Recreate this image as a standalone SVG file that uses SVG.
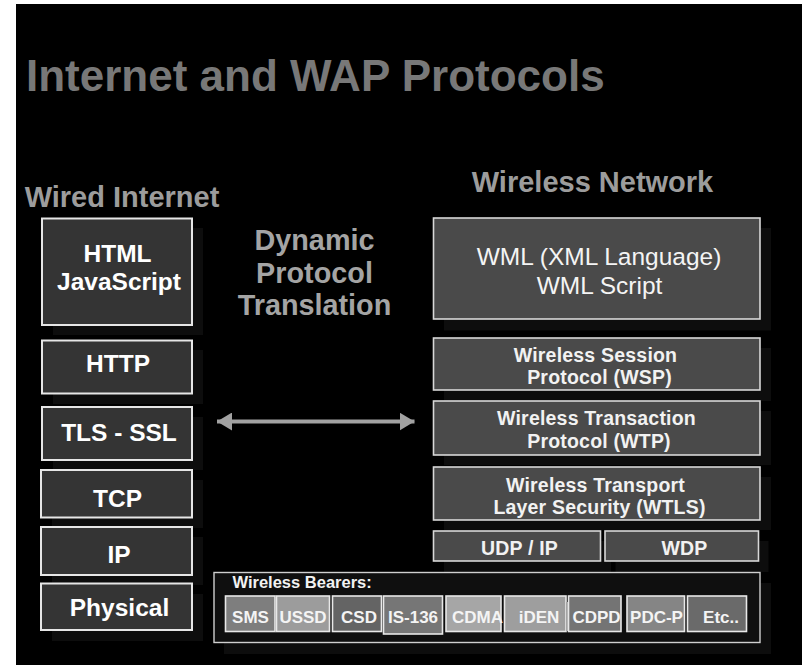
<svg xmlns="http://www.w3.org/2000/svg" width="804" height="665" viewBox="0 0 804 665">
  <defs>
    <style>
      text { font-family: "Liberation Sans", Arial, sans-serif; text-anchor: middle; }
      .shadow { fill: #0d0d0d; }
      .wired { fill: #343434; stroke: #e6e6e6; stroke-width: 2; }
      .wireless { fill: #4a4a4a; stroke: #d8d8d8; stroke-width: 1.6; }
      .bearers { fill: #0f0f0f; stroke: #cfcfcf; stroke-width: 1.4; }
      .chip { stroke: #e8e8e8; stroke-width: 1.6; }
      .lbl { fill: #ffffff; font-weight: bold; font-size: 24.5px; }
      .wl { fill: #f2f2f2; font-weight: bold; font-size: 19.5px; letter-spacing: 0.2px; }
      .chipt { fill: #f4f4f4; font-weight: bold; font-size: 17px; }
      .head { fill: #9c9c9c; font-weight: bold; font-size: 29px; }
    </style>
    <marker id="tip" viewBox="0 0 15 18" refX="15" refY="9" markerWidth="15" markerHeight="18" markerUnits="userSpaceOnUse" orient="auto-start-reverse">
      <path d="M0,0 L15,9 L0,18 Z" fill="#a2a2a2"/>
    </marker>
  </defs>

  <!-- page frame -->
  <rect x="0" y="0" width="804" height="665" fill="#ffffff"/>
  <rect x="16" y="4" width="786" height="661" fill="#000000"/>

  <!-- headings -->
  <text x="26" y="90.5" font-size="44" font-weight="bold" fill="#787878" style="text-anchor:start">Internet and WAP Protocols</text>
  <text class="head" x="122" y="206.5">Wired Internet</text>
  <text class="head" x="592.5" y="191.5">Wireless Network</text>
  <g id="translation-label" fill="#a4a4a4" font-weight="bold" font-size="28.8">
    <text x="314.5" y="250">Dynamic</text>
    <text x="314.5" y="283.3">Protocol</text>
    <text x="314.5" y="315">Translation</text>
  </g>

  <!-- wired internet stack -->
  <g id="html">
    <rect class="shadow" x="53" y="228" width="150" height="107"/>
    <rect class="wired" x="42" y="218.5" width="150" height="106.5"/>
    <text class="lbl" x="117.5" y="262">HTML</text>
    <text class="lbl" x="119" y="290">JavaScript</text>
  </g>
  <g id="http">
    <rect class="shadow" x="53" y="350" width="150" height="54"/>
    <rect class="wired" x="42" y="340.5" width="150" height="53"/>
    <text class="lbl" x="118" y="371.5">HTTP</text>
  </g>
  <g id="tls">
    <rect class="shadow" x="53" y="417" width="150" height="53"/>
    <rect class="wired" x="42" y="407" width="150" height="53"/>
    <text class="lbl" x="119" y="440.5">TLS - SSL</text>
  </g>
  <g id="tcp">
    <rect class="shadow" x="52" y="480" width="151" height="48"/>
    <rect class="wired" x="41" y="470" width="151" height="47.5"/>
    <text class="lbl" x="117.5" y="506.5">TCP</text>
  </g>
  <g id="ip">
    <rect class="shadow" x="52" y="537" width="151" height="48"/>
    <rect class="wired" x="41" y="527" width="151" height="48"/>
    <text class="lbl" x="119" y="562.5">IP</text>
  </g>
  <g id="physical">
    <rect class="shadow" x="52" y="594" width="151" height="47"/>
    <rect class="wired" x="41" y="583.5" width="151" height="46.5"/>
    <text class="lbl" x="119.5" y="616">Physical</text>
  </g>

  <!-- wireless stack -->
  <g id="wml">
    <rect class="shadow" x="444" y="228" width="327" height="102.5"/>
    <rect class="wireless" x="433.5" y="218" width="326.5" height="101"/>
    <text x="599" y="265" font-size="24.5" fill="#f4f4f4">WML (XML Language)</text>
    <text x="599.5" y="294" font-size="24.5" fill="#f4f4f4">WML Script</text>
  </g>
  <g id="wsp">
    <rect class="shadow" x="444" y="348" width="327" height="53"/>
    <rect class="wireless" x="433.5" y="338" width="326.5" height="52"/>
    <text class="wl" x="595.5" y="361.5">Wireless Session</text>
    <text class="wl" x="599.5" y="384">Protocol (WSP)</text>
  </g>
  <g id="wtp">
    <rect class="shadow" x="444" y="411" width="327" height="54"/>
    <rect class="wireless" x="433.5" y="401" width="326.5" height="54"/>
    <text class="wl" x="596.5" y="425">Wireless Transaction</text>
    <text class="wl" x="599" y="447.5">Protocol (WTP)</text>
  </g>
  <g id="wtls">
    <rect class="shadow" x="444" y="477" width="327" height="53"/>
    <rect class="wireless" x="433.5" y="467" width="326.5" height="53"/>
    <text class="wl" x="595.5" y="491.5">Wireless Transport</text>
    <text class="wl" x="599.5" y="514">Layer Security (WTLS)</text>
  </g>
  <g id="udp-ip">
    <rect class="shadow" x="444" y="541" width="167" height="31"/>
    <rect class="wireless" x="433.5" y="531" width="167" height="30"/>
    <text class="wl" x="519.5" y="555">UDP / IP</text>
  </g>
  <g id="wdp">
    <rect class="shadow" x="615.5" y="541" width="153" height="31"/>
    <rect class="wireless" x="605" y="531" width="153.5" height="30"/>
    <text class="wl" x="684.5" y="555">WDP</text>
  </g>

  <!-- wireless bearers -->
  <g id="bearers">
    <rect class="shadow" x="224" y="583" width="547" height="71"/>
    <rect class="bearers" x="214" y="572.5" width="546" height="70"/>
    <text x="232.5" y="587.5" font-size="16.5" font-weight="bold" fill="#f2f2f2" style="text-anchor:start">Wireless Bearers:</text>
    <g id="sms"><rect class="chip" x="225.5" y="596" width="49.5" height="35.5" fill="#7e7e7e"/><text class="chipt" x="250.5" y="622.5">SMS</text></g>
    <g id="ussd"><rect class="chip" x="276.5" y="596" width="53" height="35.5" fill="#9c9c9c"/><text class="chipt" x="303" y="622.5">USSD</text></g>
    <g id="csd"><rect class="chip" x="332.5" y="596" width="49" height="35.5" fill="#646464"/><text class="chipt" x="359" y="622.5">CSD</text></g>
    <g id="is136"><rect class="chip" x="383.5" y="596" width="59" height="38" fill="#767676"/><text class="chipt" x="413" y="622.5">IS-136</text></g>
    <g id="cdma"><rect class="chip" x="446" y="596" width="55" height="35.5" fill="#a6a6a6"/><text class="chipt" x="477.5" y="622.5">CDMA</text></g>
    <g id="iden"><rect class="chip" x="504.5" y="596" width="61.5" height="35.5" fill="#9e9e9e"/><rect x="566" y="602" width="4.5" height="29" fill="#a4a4a4"/><text class="chipt" x="539" y="622.5">iDEN</text></g>
    <g id="cdpd"><rect class="chip" x="568.5" y="596" width="52.5" height="35.5" fill="#747474"/><text class="chipt" x="596.5" y="622.5">CDPD</text></g>
    <g id="pdcp"><rect class="chip" x="627" y="596" width="57.5" height="35.5" fill="#858585"/><text class="chipt" x="656.5" y="622.5">PDC-P</text></g>
    <g id="etc"><rect class="chip" x="687.5" y="596" width="59" height="35.5" fill="#6a6a6a"/><text class="chipt" x="721" y="622.5">Etc..</text></g>
  </g>

  <!-- connectors -->
  <g id="connectors">
    <line x1="217" y1="421.5" x2="414.5" y2="421.5" stroke="#a2a2a2" stroke-width="4" marker-start="url(#tip)" marker-end="url(#tip)"/>
  </g>
</svg>
